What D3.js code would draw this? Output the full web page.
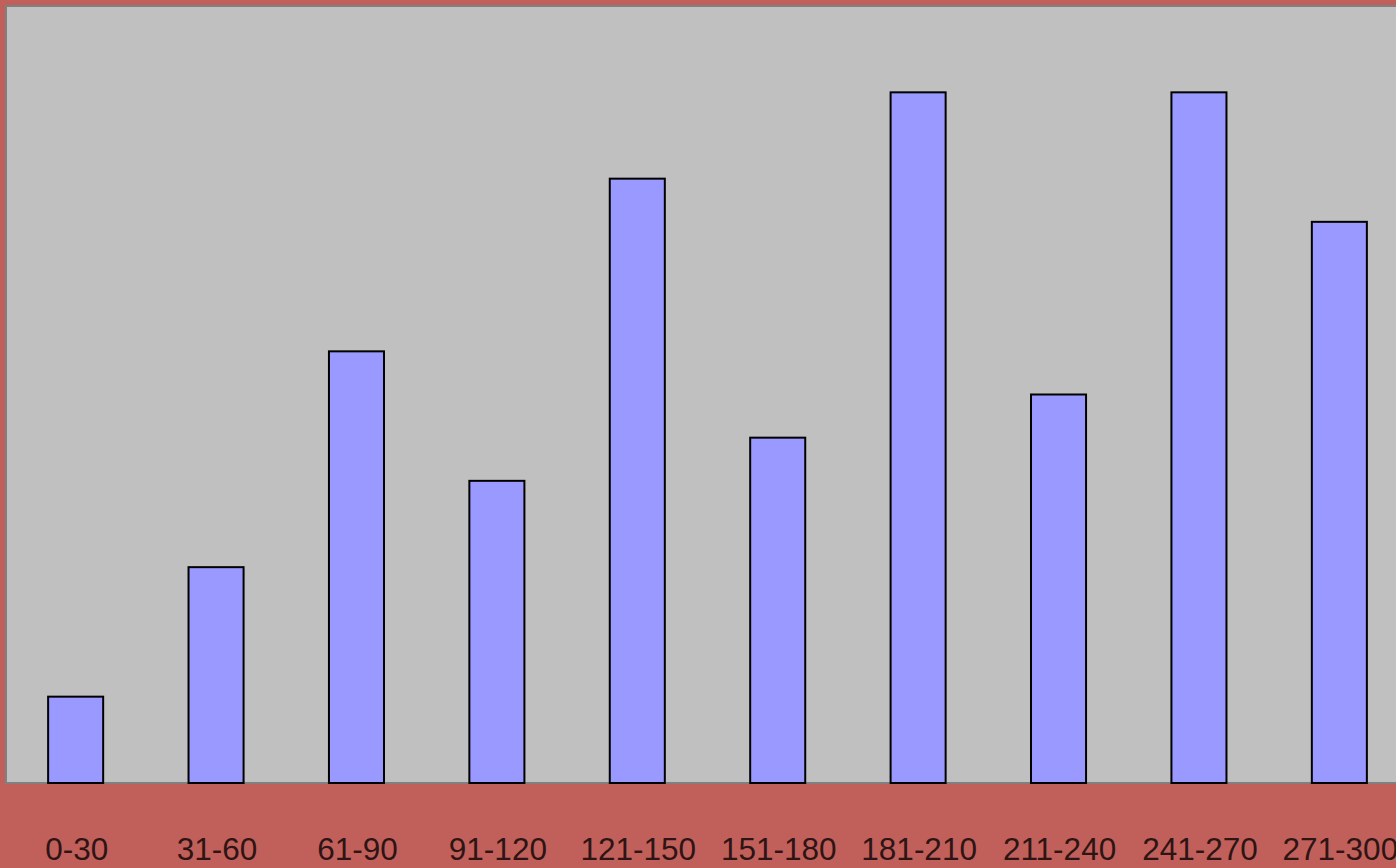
<!DOCTYPE html>
<html>
<head>
<meta charset="utf-8">
<script src="https://cdn.jsdelivr.net/npm/d3@7"></script>
<style>
  body { margin: 0; overflow: hidden; background: #c1605a; }
</style>
</head>
<body>
<div id="chart"></div>
<script>
var categories = ["0-30", "31-60", "61-90", "91-120", "121-150", "151-180", "181-210", "211-240", "241-270", "271-300"]
var values = [2, 5, 10, 7, 14, 8, 16, 9, 16, 13]
var yMax = 18

var width = 1396, height = 868
var plot = {left: 6, top: 6, width: 1403, height: 777}

var svg = d3.select("#chart")
  .append("svg")
  .attr("width", width)
  .attr("height", height)
  .style("display", "block")

svg.append("rect")
  .attr("width", width)
  .attr("height", height)
  .attr("fill", "#c1605a")

// plot area
svg.append("rect")
  .attr("x", plot.left)
  .attr("y", plot.top)
  .attr("width", plot.width)
  .attr("height", plot.height)
  .attr("fill", "#c0c0c0")
  .attr("stroke", "#808080")
  .attr("stroke-width", 2)

var x = d3.scaleBand()
  .domain(categories)
  .range([plot.left, plot.left + plot.width])
  .paddingInner(0.608)
  .paddingOuter(0.3)

var y = d3.scaleLinear()
  .domain([0, yMax])
  .range([plot.top + plot.height, plot.top])

svg.selectAll("rect.bar")
  .data(values)
  .enter()
  .append("rect")
  .attr("class", "bar")
  .attr("x", (d, i) => x(categories[i]))
  .attr("y", d => y(d))
  .attr("width", x.bandwidth())
  .attr("height", d => y(0) - y(d))
  .attr("fill", "#9999ff")
  .attr("stroke", "#000")
  .attr("stroke-width", 2)

// category labels
var xAxis = svg.append("g")
  .attr("transform", `translate(0, ${plot.top + plot.height})`)
  .call(d3.axisBottom(x).tickSize(0).tickPadding(0))
xAxis.select(".domain").remove()
xAxis.selectAll("text")
  .attr("y", 77)
  .attr("dy", 0)
  .attr("dx", 1)
  .style("font-family", "'Liberation Sans', Arial, sans-serif")
  .style("font-size", "31.5px")
  .attr("fill", "#2e1414")
</script>
</body>
</html>
